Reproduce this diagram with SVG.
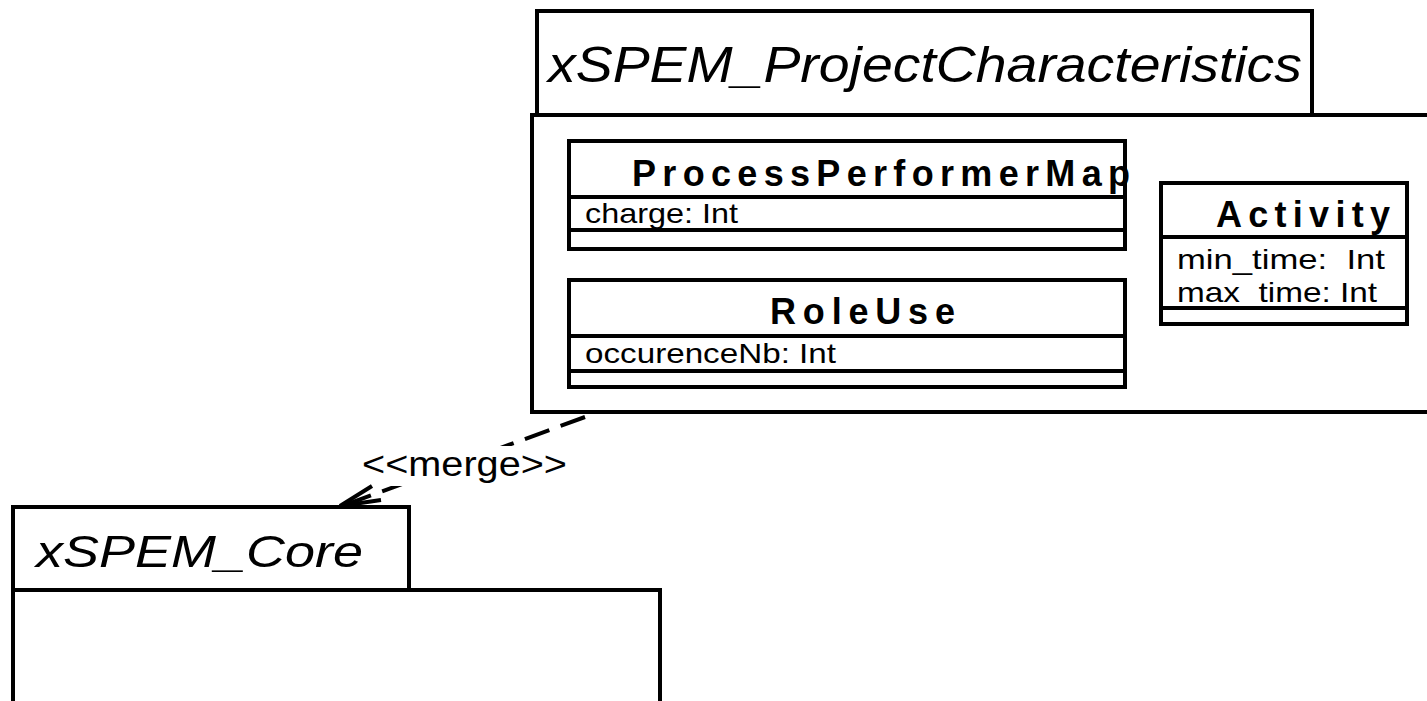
<svg xmlns="http://www.w3.org/2000/svg" width="1427" height="701" viewBox="0 0 1427 701">
<style>
.box{fill:#fff;stroke:#000;stroke-width:4}
.ln{stroke:#000;stroke-width:4;fill:none}
.pkg{font-family:"Liberation Sans",Arial,sans-serif;font-style:italic;fill:#000}
.cls{font-family:"Liberation Sans",Arial,sans-serif;font-weight:bold;font-size:36px;fill:#000}
.att{font-family:"Liberation Sans",Arial,sans-serif;font-size:28px;fill:#000}
.lbl{font-family:"Liberation Sans",Arial,sans-serif;font-size:35px;fill:#000}
</style>
<rect width="1427" height="701" fill="#fff"/>
<g id="xSPEM_ProjectCharacteristics">
<rect class="box" x="537" y="11" width="775" height="104"/>
<rect class="box" x="532" y="115" width="905" height="297"/>
<text class="pkg" x="548" y="82" font-size="50" textLength="754" lengthAdjust="spacingAndGlyphs">xSPEM_ProjectCharacteristics</text>
</g>
<g id="ProcessPerformerMap">
<rect class="box" x="569" y="141" width="556" height="108"/>
<line class="ln" x1="569" y1="197" x2="1125" y2="197"/>
<line class="ln" x1="569" y1="230" x2="1125" y2="230"/>
<text class="cls" x="632" y="186" textLength="498" lengthAdjust="spacing">ProcessPerformerMap</text>
<text class="att" x="585" y="223" textLength="153" lengthAdjust="spacingAndGlyphs">charge: Int</text>
</g>
<g id="RoleUse">
<rect class="box" x="569" y="280" width="556" height="107"/>
<line class="ln" x1="569" y1="336" x2="1125" y2="336"/>
<line class="ln" x1="569" y1="371" x2="1125" y2="371"/>
<text class="cls" x="770" y="324" textLength="185" lengthAdjust="spacing">RoleUse</text>
<text class="att" x="585" y="363" textLength="251" lengthAdjust="spacingAndGlyphs">occurenceNb: Int</text>
</g>
<g id="Activity">
<rect class="box" x="1161" y="183" width="246" height="141"/>
<line class="ln" x1="1161" y1="237" x2="1407" y2="237"/>
<line class="ln" x1="1161" y1="308" x2="1407" y2="308"/>
<text class="cls" x="1216" y="227" textLength="174" lengthAdjust="spacing">Activity</text>
<text class="att" x="1177" y="269" xml:space="preserve" textLength="208" lengthAdjust="spacingAndGlyphs">min_time:  Int</text>
<text class="att" x="1177" y="302" textLength="200" lengthAdjust="spacingAndGlyphs">max_time: Int</text>
</g>
<g id="xSPEM_Core">
<rect class="box" x="13" y="507" width="396" height="83"/>
<rect class="box" x="13" y="590" width="647" height="130"/>
<text class="pkg" x="36" y="567" font-size="45" textLength="327" lengthAdjust="spacingAndGlyphs">xSPEM_Core</text>
</g>
<g id="connectors">
<line x1="585" y1="417" x2="342" y2="506" stroke="#000" stroke-width="4" stroke-dasharray="26 12"/>
<rect x="358" y="446" width="214" height="40" fill="#fff"/>
<path class="ln" d="M372,486 L340,506 L381,500"/>
<text class="lbl" x="362" y="476" textLength="205" lengthAdjust="spacingAndGlyphs">&lt;&lt;merge&gt;&gt;</text>
</g>
</svg>
